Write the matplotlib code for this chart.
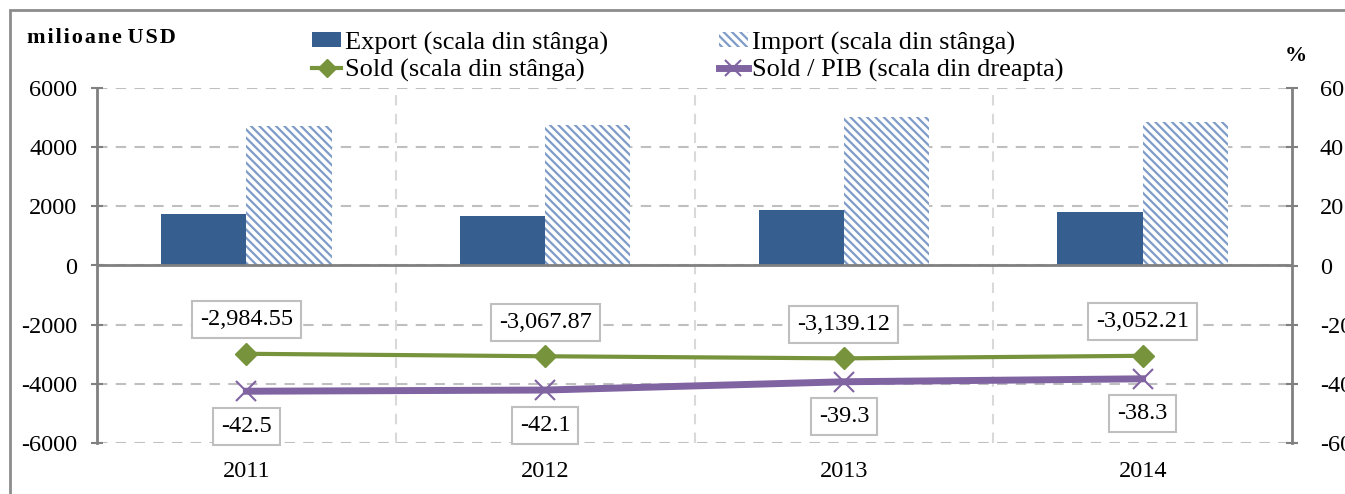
import matplotlib
matplotlib.use('Agg')
import matplotlib.pyplot as plt
import numpy as np
from matplotlib.patches import Patch, Rectangle
from matplotlib.lines import Line2D

plt.rcParams['font.family'] = ['Liberation Serif', 'DejaVu Serif']
plt.rcParams['axes.unicode_minus'] = False
plt.rcParams['hatch.color'] = '#7F9CC8'
plt.rcParams['hatch.linewidth'] = 1.6

years = ['2011', '2012', '2013', '2014']
export = [1740, 1670, 1870, 1805]
imports = [4725, 4738, 5010, 4857]
sold = [-2984.55, -3067.87, -3139.12, -3052.21]
sold_pib = [-42.5, -42.1, -39.3, -38.3]

sold_labels = ['-2,984.55', '-3,067.87', '-3,139.12', '-3,052.21']

W, H = 1345, 494
fig = plt.figure(figsize=(W / 100, H / 100), dpi=100)
ax = fig.add_axes([97 / W, 1 - 443 / H, (1292 - 97) / W, (443 - 88) / H])
ax2 = ax.twinx()

# outer border of the chart area
fig.patches.append(Rectangle((10 / W, -0.2), 1.2, 1.2 - 10 / H, transform=fig.transFigure,
                             fill=False, edgecolor='#8C8C8C', linewidth=2))

x = np.arange(len(years))
bw = 0.285
ax.bar(x - bw / 2, export, bw, color='#365E8F', zorder=3)
ax.bar(x + bw / 2, imports, bw, color='white', hatch='\\\\\\\\', edgecolor='#7F9CC8', linewidth=0, zorder=3)

ax.plot(x, sold, color='#77933C', linewidth=3, marker='D', markersize=11, zorder=5)
ax2.plot(x, sold_pib, color='#8064A2', linewidth=5, marker='x', markersize=15,
         markeredgewidth=1.5, zorder=5)

ax.set_xlim(-0.5, 3.5)
ax.set_ylim(-6000, 6000)
ax2.set_ylim(-60, 60)
ax.set_yticks(range(-6000, 6001, 2000))
ax2.set_yticks(range(-60, 61, 20))
ax.set_xticks(x)
ax.set_xticklabels(years)

ax.set_xticks([0.5, 1.5, 2.5], minor=True)
ax.grid(axis='y', which='major', color='#BFBFBF', linestyle=(0, (5, 4)), linewidth=1.5, zorder=0)
ax.grid(axis='x', which='minor', color='#D9D9D9', linestyle=(0, (5, 4)), linewidth=1.5, zorder=0)
ax.axhline(0, color='#808080', linewidth=2, zorder=4)

for a in (ax, ax2):
    for s in ('top', 'bottom'):
        a.spines[s].set_visible(False)
    a.spines['left'].set_color('#808080')
    a.spines['right'].set_color('#808080')
    a.spines['left'].set_linewidth(2)
    a.spines['right'].set_linewidth(2)
ax2.spines['left'].set_visible(False)
ax.spines['right'].set_visible(False)

ax.tick_params(axis='y', direction='inout', length=8, width=1.5, color='#808080', labelsize=17.5, pad=10)
ax2.tick_params(axis='y', direction='inout', length=8, width=1.5, color='#808080', labelsize=17.5, pad=16)
ax.tick_params(axis='x', which='both', length=0, labelsize=17.5, pad=13)

box = dict(boxstyle='square,pad=0.33', facecolor='white', edgecolor='#BFBFBF', linewidth=1.5)
for xi, v, lab in zip(x, sold, sold_labels):
    ax.annotate(lab, (xi, v), xytext=(0, 34), textcoords='offset pixels', ha='center', va='center',
                fontsize=17.5, bbox=box, zorder=6)
for xi, v in zip(x, sold_pib):
    ax2.annotate(f'{v:.1f}', (xi, v), xytext=(0, -35), textcoords='offset pixels', ha='center',
                 va='center', fontsize=17.5, bbox=box, zorder=6)

fig.text(27 / W, 1 - 38 / H, 'm i l i o a n e  U S D'.replace(' ', '\u200a').replace('\u200a\u200a', ' '),
         fontsize=16, fontweight='bold', va='center', ha='left', family=['Liberation Serif', 'DejaVu Serif'])
fig.text(1296 / W, 1 - 56 / H, '%', fontsize=16, fontweight='bold', va='center', ha='center')

handles = [
    Patch(facecolor='#365E8F', edgecolor='none'),
    Line2D([], [], color='#77933C', linewidth=3, marker='D', markersize=9),
    Patch(facecolor='white', hatch='\\\\\\\\', edgecolor='#7F9CC8', linewidth=0),
    Line2D([], [], color='#8064A2', linewidth=5, marker='x', markersize=12, markeredgewidth=1.5),
]
labels = ['Export (scala din stânga)', 'Sold (scala din stânga)',
          'Import (scala din stânga)', 'Sold / PIB (scala din dreapta)']
fig.legend(handles, labels, ncol=2, loc='center left', bbox_to_anchor=(312 / W, 1 - 57 / H),
           frameon=False, fontsize=19, handlelength=1.1, handleheight=0.5, handletextpad=0.15,
           columnspacing=4.2, labelspacing=0.17, borderaxespad=0, borderpad=0)

fig.savefig('out.png', dpi=100)
